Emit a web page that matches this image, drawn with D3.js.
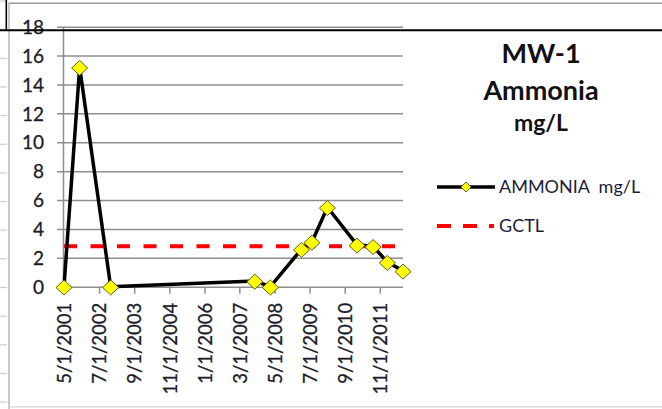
<!DOCTYPE html>
<html>
<head>
<meta charset="utf-8">
<script src="https://cdn.jsdelivr.net/npm/d3@7"></script>
<style>
  html, body { margin: 0; padding: 0; background: #fff; }
  svg { display: block; }
  text { font-family: Lato, "Open Sans", sans-serif; }
</style>
</head>
<body>
<svg id="chart" width="662" height="409"></svg>
<script>
// ---- data ----
const sampleDates = ["2001-05-01", "2001-11-07", "2002-11-19", "2007-09-05", "2008-03-12", "2009-03-25",
                     "2009-07-30", "2010-02-03", "2011-01-28", "2011-08-11", "2012-02-01", "2012-08-09"];
const ammoniaValues = [0, 15.2, 0, 0.4, 0, 2.6, 3.1, 5.5, 2.9, 2.8, 1.7, 1.1];
const gctlValue = 2.8;
const yTickValues = [0, 2, 4, 6, 8, 10, 12, 14, 16, 18];
const xTickLabels = ["5/1/2001", "7/1/2002", "9/1/2003", "11/1/2004", "1/1/2006", "3/1/2007",
                     "5/1/2008", "7/1/2009", "9/1/2010", "11/1/2011"];
const titleLines = ["MW-1", "Ammonia", "mg/L"];
const legendLabels = ["AMMONIA  mg/L", "GCTL"];

// ---- setup ----
const svg = d3.select("#chart");
const W = 662, H = 409;
svg.append("rect").attr("width", W).attr("height", H).attr("fill", "#fff");

const parseISO = d3.timeParse("%Y-%m-%d");
const parseTick = d3.timeParse("%m/%d/%Y");
const data = sampleDates.map((d, i) => ({ date: parseISO(d), value: ammoniaValues[i] }));
const tickDates = xTickLabels.map(parseTick);

const plot = { left: 64, right: 403, top: 26.7, bottom: 286.7 };
const x = d3.scaleTime()
  .domain([data[0].date, data[data.length - 1].date])
  .range([plot.left, plot.right]);
const y = d3.scaleLinear().domain([0, 18]).range([plot.bottom, plot.top]);

// worksheet decoration (row marks at left)
const deco = svg.append("g");
for (let yy = 1; yy < H; yy += 28.65) {
  deco.append("line").attr("x1", 0).attr("x2", 7).attr("y1", yy).attr("y2", yy)
    .attr("stroke", "#c9cbe3").attr("stroke-width", 1.2);
}
deco.append("line").attr("x1", 8).attr("x2", W).attr("y1", 3.3).attr("y2", 3.3)
  .attr("stroke", "#9a9a9a").attr("stroke-width", 1.6);
deco.append("line").attr("x1", 9).attr("x2", 9).attr("y1", 3).attr("y2", H)
  .attr("stroke", "#bdbdbd").attr("stroke-width", 1.6);
deco.append("line").attr("x1", 9).attr("x2", W).attr("y1", 406.8).attr("y2", 406.8)
  .attr("stroke", "#d4d4d4").attr("stroke-width", 1.2);

// gridlines + y axis
const yAxis = d3.axisLeft(y).tickValues(yTickValues).tickSize(-(plot.right - plot.left + 7))
  .tickFormat(d3.format("d"));
const gy = svg.append("g").attr("transform", `translate(${plot.left - 7},0)`).call(yAxis);
gy.select(".domain").remove();
gy.selectAll(".tick line").attr("stroke", "#8e8e8e").attr("stroke-width", 1.5);
gy.selectAll(".tick text")
  .attr("fill", "#1c1c2a").attr("stroke", "#1c1c2a").attr("stroke-width", 0.3)
  .attr("font-size", 19).attr("dy", "0.35em")
  .attr("x", 44 - (plot.left - 7));

// vertical axis line
svg.append("line").attr("x1", plot.left - 0.5).attr("x2", plot.left - 0.5)
  .attr("y1", plot.top).attr("y2", plot.bottom)
  .attr("stroke", "#8e8e8e").attr("stroke-width", 1.5);

// x axis
const xAxis = d3.axisBottom(x).tickValues(tickDates).tickSize(7).tickFormat((d, i) => xTickLabels[i]);
const gx = svg.append("g").attr("transform", `translate(0,${plot.bottom})`).call(xAxis);
gx.select(".domain").remove();
gx.selectAll(".tick line").attr("stroke", "#8e8e8e").attr("stroke-width", 1.5);
gx.selectAll(".tick text")
  .attr("fill", "#1c1c2a").attr("stroke", "#1c1c2a").attr("stroke-width", 0.3)
  .attr("font-size", 18.5)
  .attr("text-anchor", "end")
  .attr("transform", "rotate(-90)")
  .attr("x", -16).attr("y", 0).attr("dy", "0.36em");

// GCTL dashed line
svg.append("line")
  .attr("x1", plot.left).attr("x2", plot.right)
  .attr("y1", y(gctlValue)).attr("y2", y(gctlValue))
  .attr("stroke", "#ff0000").attr("stroke-width", 4)
  .attr("stroke-dasharray", "13,13.5");

// ammonia line
const line = d3.line().x(d => x(d.date)).y(d => y(d.value));
svg.append("path").datum(data).attr("d", line)
  .attr("fill", "none").attr("stroke", "#000").attr("stroke-width", 3.5)
  .attr("stroke-linejoin", "round");

const diamond = (hw, hh) => `M0,${-hh}L${hw},0L0,${hh}L${-hw},0Z`;
svg.selectAll(".pt").data(data).enter().append("path")
  .attr("class", "pt")
  .attr("d", diamond(8, 7.5))
  .attr("transform", d => `translate(${x(d.date)},${y(d.value) + 0.8})`)
  .attr("fill", "#ffff00").attr("stroke", "#5e5e20").attr("stroke-width", 1);

// title
const titleSizes = [27, 27, 23];
const titleY = [63, 100, 131];
titleLines.forEach((t, i) => {
  svg.append("text").text(t)
    .attr("x", 541).attr("y", titleY[i])
    .attr("text-anchor", "middle").attr("font-weight", "bold")
    .attr("font-size", titleSizes[i]).attr("fill", "#111");
});

// legend
const lg = svg.append("g");
lg.append("line").attr("x1", 437).attr("x2", 495).attr("y1", 187).attr("y2", 187)
  .attr("stroke", "#000").attr("stroke-width", 3.5);
lg.append("path").attr("d", diamond(5, 5)).attr("transform", "translate(466,187)")
  .attr("fill", "#ffff00").attr("stroke", "#5e5e20").attr("stroke-width", 1);
lg.append("line").attr("x1", 437).attr("x2", 494).attr("y1", 226).attr("y2", 226)
  .attr("stroke", "#ff0000").attr("stroke-width", 4).attr("stroke-dasharray", "14,12");
legendLabels.forEach((t, i) => {
  lg.append("text").text(t).attr("xml:space", "preserve").style("white-space", "pre")
    .attr("x", 499).attr("y", [187, 226][i]).attr("dy", "0.35em")
    .attr("font-size", 18).attr("fill", "#1c1c3a");
});

// black worksheet border lines drawn on top
svg.append("line").attr("x1", 0).attr("x2", W).attr("y1", 30.3).attr("y2", 30.3)
  .attr("stroke", "#000").attr("stroke-width", 2);
svg.append("line").attr("x1", 6.3).attr("x2", 6.3).attr("y1", 0).attr("y2", 30)
  .attr("stroke", "#000").attr("stroke-width", 1.6);
</script>
</body>
</html>
